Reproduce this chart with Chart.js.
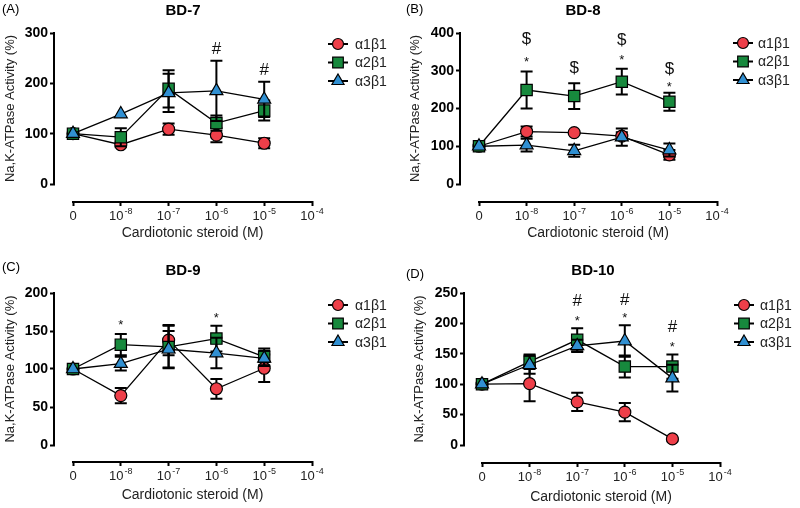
<!DOCTYPE html>
<html><head><meta charset="utf-8">
<script src="https://cdn.jsdelivr.net/npm/chart.js@4.4.0/dist/chart.umd.min.js"></script>
<style>
html,body{margin:0;padding:0;background:#fff;}
#wrap{position:relative;width:800px;height:508px;overflow:hidden;background:#fff;}
canvas{position:absolute;}
</style></head><body>
<div id="wrap">
<canvas id="cA" width="400" height="250" style="left:0;top:0"></canvas>
<canvas id="cB" width="400" height="250" style="left:400px;top:0"></canvas>
<canvas id="cC" width="400" height="258" style="left:0;top:250px"></canvas>
<canvas id="cD" width="400" height="258" style="left:400px;top:250px"></canvas>
</div>
<script>
// ---------- data ----------
const seriesNames = ['α1β1', 'α2β1', 'α3β1'];
const concIndex = [0, 1, 2, 3, 4];
const xTickValues = [0, 1, 2, 3, 4, 5];
const xTickBase = ['0', '10', '10', '10', '10', '10'];
const xTickExp = ['', '-8', '-7', '-6', '-5', '-4'];
const xAxisTitle = 'Cardiotonic steroid (M)';
const yAxisTitle = 'Na,K-ATPase Activity (%)';
const panelTitles = ['BD-7', 'BD-8', 'BD-9', 'BD-10'];
const panelTags = ['(A)', '(B)', '(C)', '(D)'];

const bd7YTicks = [0, 100, 200, 300];
const bd7A1 = [100, 78, 109, 97, 81];
const bd7A1Err = [0, 5, 11, 14, 10];
const bd7A2 = [100, 93, 189, 121, 146];
const bd7A2Err = [0, 18, 37, 15, 20];
const bd7A3 = [100, 139, 181, 185, 168];
const bd7A3Err = [0, 0, 38, 60, 35];
const bd7Marks = [[3, 267, '#'], [4, 226, '#']];

const bd8YTicks = [0, 100, 200, 300, 400];
const bd8A1 = [100, 139, 136, 127, 77];
const bd8A1Err = [0, 13, 3, 10, 13];
const bd8A2 = [100, 249, 233, 271, 218];
const bd8A2Err = [0, 49, 34, 34, 24];
const bd8A3 = [100, 103, 88, 124, 90];
const bd8A3Err = [0, 17, 16, 23, 17];
const bd8Marks = [[1, 383, '$'], [1, 330, '*'], [2, 306, '$'], [3, 381, '$'], [3, 336, '*'], [4, 305, '$'], [4, 264, '*']];

const bd9YTicks = [0, 50, 100, 150, 200];
const bd9A1 = [100, 65, 138, 74, 101];
const bd9A1Err = [0, 10, 20, 13, 18];
const bd9A2 = [100, 132, 129, 140, 116];
const bd9A2Err = [0, 14, 28, 17, 11];
const bd9A3 = [100, 107, 126, 121, 114];
const bd9A3Err = [0, 9, 24, 20, 10];
const bd9Marks = [[1, 161, '*'], [3, 170, '*']];

const bd10YTicks = [0, 50, 100, 150, 200, 250];
const bd10A1 = [100, 101, 71, 54, 10];
const bd10A1Err = [0, 29, 15, 15, 2];
const bd10A2 = [100, 137, 173, 129, 129];
const bd10A2Err = [0, 12, 19, 18, 20];
const bd10A3 = [100, 132, 163, 171, 110];
const bd10A3Err = [0, 15, 10, 26, 22];
const bd10Marks = [[2, 236, '#'], [2, 208, '*'], [3, 238, '#'], [3, 213, '*'], [4, 193, '#'], [4, 166, '*']];

// ---------- styles / layout ----------
const FONT = '"Liberation Sans", Arial, sans-serif';
const fills = ['#ee3f49', '#17893d', '#3190d2'];
const shapes = ['circle', 'rect', 'triangle'];
const radii = [6, 8, 7.5];

const panels = [
  {id: 'cA', H: 250, left: 55, x0: 73, x5: 312, top: 33, y0: 184, xAxisY: 201,
   yTicks: bd7YTicks, series: [bd7A1, bd7A2, bd7A3], errs: [bd7A1Err, bd7A2Err, bd7A3Err], marks: bd7Marks,
   titleX: 183, titleY: 11, tagX: 2, tagY: 9, legX: 338, legY: 44, legTX: 355, yTitleX: 10, xTitleY: 233},
  {id: 'cB', H: 250, left: 61, x0: 79, x5: 317, top: 33, y0: 184, xAxisY: 201,
   yTicks: bd8YTicks, series: [bd8A1, bd8A2, bd8A3], errs: [bd8A1Err, bd8A2Err, bd8A3Err], marks: bd8Marks,
   titleX: 183, titleY: 11, tagX: 6, tagY: 9, legX: 343, legY: 43, legTX: 358, yTitleX: 15, xTitleY: 233},
  {id: 'cC', H: 258, left: 55, x0: 73, x5: 312, top: 43, y0: 195, xAxisY: 211,
   yTicks: bd9YTicks, series: [bd9A1, bd9A2, bd9A3], errs: [bd9A1Err, bd9A2Err, bd9A3Err], marks: bd9Marks,
   titleX: 183, titleY: 21, tagX: 2, tagY: 17, legX: 338, legY: 55, legTX: 355, yTitleX: 10, xTitleY: 245},
  {id: 'cD', H: 258, left: 65, x0: 82, x5: 320, top: 43, y0: 195, xAxisY: 212,
   yTicks: bd10YTicks, series: [bd10A1, bd10A2, bd10A3], errs: [bd10A1Err, bd10A2Err, bd10A3Err], marks: bd10Marks,
   titleX: 193, titleY: 21, tagX: 6, tagY: 24, legX: 344, legY: 55, legTX: 360, yTitleX: 19, xTitleY: 247}
];

function drawMarker(ctx, shape, x, y, r, fill) {
  ctx.save();
  ctx.fillStyle = fill; ctx.strokeStyle = '#000'; ctx.lineWidth = 1.2;
  ctx.beginPath();
  if (shape === 'circle') {
    ctx.arc(x, y, r, 0, Math.PI * 2);
  } else if (shape === 'rect') {
    const s = r * Math.SQRT1_2;
    ctx.rect(x - s, y - s, 2 * s, 2 * s);
  } else {
    for (let k = 0; k < 3; k++) {
      const a = k * 2 * Math.PI / 3;
      const px = x + Math.sin(a) * r, py = y - Math.cos(a) * r;
      if (k === 0) ctx.moveTo(px, py); else ctx.lineTo(px, py);
    }
    ctx.closePath();
  }
  ctx.fill(); ctx.stroke();
  ctx.restore();
}

panels.forEach((p, pi) => {
  const yMax = p.yTicks[p.yTicks.length - 1];
  const pxU = (p.x5 - p.x0) / 5;
  const xMin = -(p.x0 - p.left) / pxU;
  const pxV = (p.y0 - p.top) / yMax;
  const yMin = -(p.xAxisY - p.y0) / pxV;

  const datasets = p.series.map((vals, si) => ({
    label: seriesNames[si],
    data: concIndex.map((c, i) => ({x: c, y: vals[i]})),
    borderColor: '#000',
    borderWidth: 1.3,
    backgroundColor: fills[si],
    pointBackgroundColor: fills[si],
    pointBorderColor: '#000',
    pointBorderWidth: 1.2,
    pointStyle: shapes[si],
    pointRadius: radii[si],
    pointHoverRadius: radii[si],
    tension: 0,
    fill: false,
    clip: false,
    order: 3 - si
  }));

  const prism = {
    id: 'prism' + pi,
    beforeDatasetDraw(chart, args) {
      const si = args.index;
      const err = p.errs[si], vals = p.series[si];
      const ctx = chart.ctx, xs = chart.scales.x, ys = chart.scales.y;
      ctx.save();
      ctx.strokeStyle = '#000'; ctx.lineWidth = 2;
      concIndex.forEach((c, i) => {
        const e = err[i];
        if (!e) return;
        const px = xs.getPixelForValue(c);
        const t = ys.getPixelForValue(vals[i] + e), b = ys.getPixelForValue(vals[i] - e);
        ctx.beginPath();
        ctx.moveTo(px, t); ctx.lineTo(px, b);
        ctx.moveTo(px - 6, t); ctx.lineTo(px + 6, t);
        ctx.moveTo(px - 6, b); ctx.lineTo(px + 6, b);
        ctx.stroke();
      });
      ctx.restore();
    },
    afterDraw(chart) {
      const ctx = chart.ctx, xs = chart.scales.x, ys = chart.scales.y, ca = chart.chartArea;
      ctx.save();
      // axis lines
      ctx.strokeStyle = '#000'; ctx.lineWidth = 2; ctx.lineCap = 'butt';
      ctx.beginPath();
      ctx.moveTo(ca.left - 1, ys.getPixelForValue(0) + 1);
      ctx.lineTo(ca.left - 1, ys.getPixelForValue(yMax) - 1);
      ctx.moveTo(xs.getPixelForValue(0) - 1, ca.bottom + 1);
      ctx.lineTo(xs.getPixelForValue(5) + 1, ca.bottom + 1);
      ctx.stroke();
      // x tick labels with superscript exponents
      ctx.fillStyle = '#222';
      ctx.textBaseline = 'middle';
      xTickValues.forEach((v, k) => {
        const px = xs.getPixelForValue(v), py = ca.bottom + 15;
        ctx.font = '13px ' + FONT;
        const wb = ctx.measureText(xTickBase[k]).width;
        ctx.font = '9px ' + FONT;
        const we = xTickExp[k] ? ctx.measureText(xTickExp[k]).width + 1 : 0;
        const x0 = px - (wb + we) / 2;
        ctx.textAlign = 'left';
        ctx.font = '13px ' + FONT;
        ctx.fillText(xTickBase[k], x0, py);
        if (xTickExp[k]) {
          ctx.font = '9px ' + FONT;
          ctx.fillText(xTickExp[k], x0 + wb + 1, py - 4);
        }
      });
      // titles
      ctx.fillStyle = '#000';
      ctx.textAlign = 'center';
      ctx.font = 'bold 15px ' + FONT;
      ctx.fillText(panelTitles[pi], p.titleX, p.titleY);
      ctx.textAlign = 'left';
      ctx.font = '13px ' + FONT;
      ctx.fillText(panelTags[pi], p.tagX, p.tagY);
      ctx.fillStyle = '#222';
      ctx.textAlign = 'center';
      ctx.font = '14px ' + FONT;
      ctx.fillText(xAxisTitle, (xs.getPixelForValue(0) + xs.getPixelForValue(5)) / 2, p.xTitleY);
      ctx.save();
      ctx.translate(p.yTitleX, (ys.getPixelForValue(0) + ys.getPixelForValue(yMax)) / 2);
      ctx.rotate(-Math.PI / 2);
      ctx.font = '13px ' + FONT;
      ctx.fillText(yAxisTitle, 0, 0);
      ctx.restore();
      // significance marks
      ctx.fillStyle = '#111';
      p.marks.forEach(m => {
        const px = xs.getPixelForValue(m[0]), py = ys.getPixelForValue(m[1]);
        ctx.font = (m[2] === '*' ? '13px ' : '17px ') + FONT;
        ctx.fillText(m[2], px, py + (m[2] === '*' ? 3 : 0));
      });
      // legend
      seriesNames.forEach((name, si) => {
        const ly = p.legY + si * 18.5;
        ctx.strokeStyle = '#000'; ctx.lineWidth = 2;
        ctx.beginPath(); ctx.moveTo(p.legX - 10, ly); ctx.lineTo(p.legX + 10, ly); ctx.stroke();
        drawMarker(ctx, shapes[si], p.legX, ly, [5.5, 7.5, 7][si], fills[si]);
        ctx.fillStyle = '#222';
        ctx.textAlign = 'left';
        ctx.font = '14px ' + FONT;
        ctx.fillText(name, p.legTX, ly + 1);
      });
      ctx.restore();
    }
  };

  new Chart(document.getElementById(p.id), {
    type: 'line',
    data: {datasets},
    options: {
      responsive: false,
      animation: false,
      devicePixelRatio: 1,
      layout: {padding: {left: 0, top: p.top, right: 400 - p.x5, bottom: 0}},
      plugins: {legend: {display: false}, title: {display: false}, tooltip: {enabled: false}},
      events: [],
      scales: {
        x: {
          type: 'linear', min: xMin, max: 5,
          afterBuildTicks: s => { s.ticks = xTickValues.map(v => ({value: v})); },
          afterFit: s => { s.height = p.H - p.xAxisY; },
          border: {display: false},
          grid: {display: true, drawOnChartArea: false, drawTicks: true, tickLength: 5, tickColor: '#000', tickWidth: 2},
          ticks: {display: false}
        },
        y: {
          type: 'linear', min: yMin, max: yMax,
          afterBuildTicks: s => { s.ticks = p.yTicks.map(v => ({value: v})); },
          afterFit: s => { s.width = p.left; },
          border: {display: false},
          grid: {display: true, drawOnChartArea: false, drawTicks: true, tickLength: 5, tickColor: '#000', tickWidth: 2},
          ticks: {padding: 2, color: '#000', font: {family: FONT, size: 14, weight: 'bold'}, autoSkip: false}
        }
      }
    },
    plugins: [prism]
  });
});
</script>
</body></html>
